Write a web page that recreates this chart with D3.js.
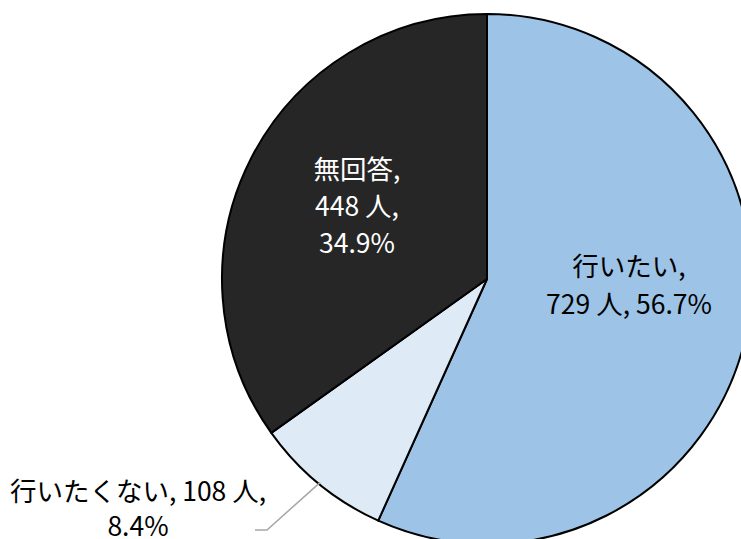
<!DOCTYPE html>
<html>
<head>
<meta charset="utf-8">
<script src="https://cdn.jsdelivr.net/npm/d3@7"></script>
<style>
  html, body { margin: 0; padding: 0; background: #fff; overflow: hidden; }
  svg { display: block; }
  text { font-family: "Noto Sans CJK JP", "Noto Sans", sans-serif; }
</style>
</head>
<body>
<svg id="chart" width="741" height="539"></svg>
<script>
const categories = ["行いたい", "行いたくない", "無回答"];
const counts = [729, 108, 448];
const percents = ["56.7%", "8.4%", "34.9%"];
const colors = ["#9DC3E6", "#DEEBF7", "#262626"];
const textColors = ["#000000", "#000000", "#FFFFFF"];

const svg = d3.select("#chart");
const W = 741, H = 539;
const cx = 487, cy = 279, R = 265;

const g = svg.append("g").attr("transform", `translate(${cx},${cy})`);

const pie = d3.pie().sort(null).value(d => d.value);
const data = categories.map((c, i) => ({ name: c, value: counts[i], pct: percents[i], i }));
const arcs = pie(data);
const arc = d3.arc().innerRadius(0).outerRadius(R);

g.selectAll("path.slice")
  .data(arcs)
  .enter().append("path")
  .attr("class", "slice")
  .attr("d", arc)
  .attr("fill", d => colors[d.data.i])
  .attr("stroke", "#000")
  .attr("stroke-width", 2)
  .attr("stroke-linejoin", "round");

// label layouts (lines and center positions relative to pie center)
const fs = 26.5;
const layouts = [
  { lines: d => [`${d.name},`, `${d.value} 人, ${d.pct}`], dx: 142, dy: 4, lh: 38 },
  { lines: d => [`${d.name}, ${d.value} 人,`, `${d.pct}`], dx: -349, dy: 228, lh: 35, outside: true },
  { lines: d => [`${d.name},`, `${d.value} 人,`, `${d.pct}`], dx: -130, dy: -75, lh: 37 }
];

arcs.forEach(a => {
  const L = layouts[a.data.i];
  const lines = L.lines(a.data);
  const n = lines.length;
  const t = g.append("text")
    .attr("text-anchor", "middle")
    .attr("font-size", fs)
    .attr("fill", textColors[a.data.i]);
  lines.forEach((s, k) => {
    t.append("tspan")
      .attr("x", L.dx)
      .attr("y", L.dy + (k - (n - 1) / 2) * L.lh)
      .attr("dominant-baseline", "central")
      .text(s);
  });
  if (L.outside) {
    const mid = (a.startAngle + a.endAngle) / 2;
    const sx = (R - 2) * Math.sin(mid), sy = -(R - 2) * Math.cos(mid);
    const p1 = [L.dx + 129, L.dy + 23];
    const p2 = [L.dx + 117, L.dy + 23];
    g.append("polyline")
      .attr("points", [[sx, sy], p1, p2].map(p => p.join(",")).join(" "))
      .attr("fill", "none")
      .attr("stroke", "#A6A6A6")
      .attr("stroke-width", 1.5);
  }
});
</script>
</body>
</html>
